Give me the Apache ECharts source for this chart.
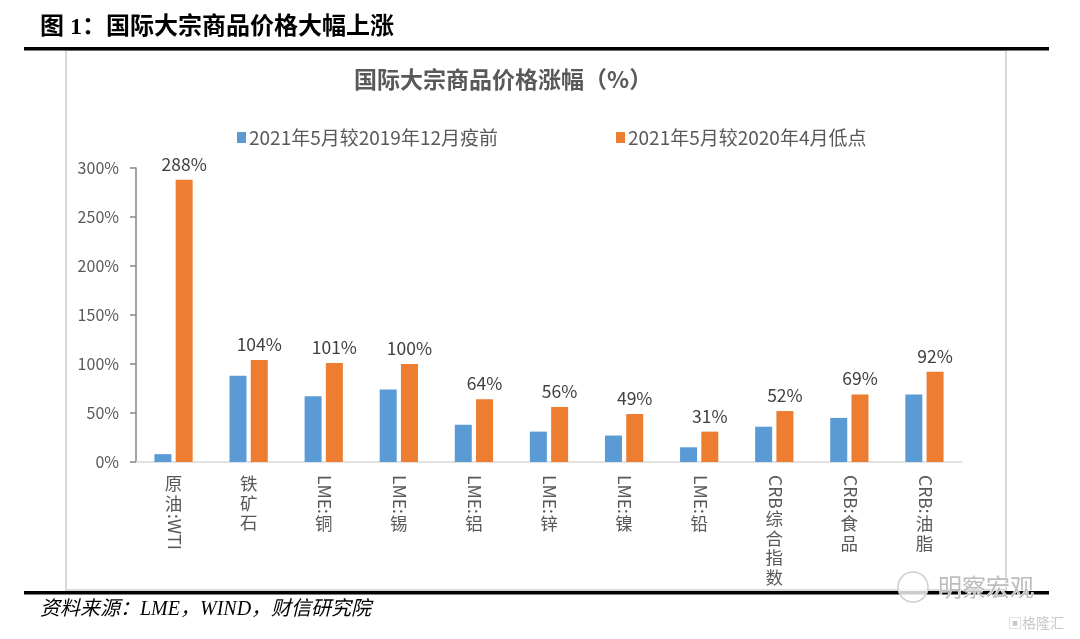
<!DOCTYPE html>
<html>
<head>
<meta charset="utf-8">
<script src="https://cdn.jsdelivr.net/npm/echarts@6/dist/echarts.min.js"></script>
<style>
html,body{margin:0;padding:0;background:#fff;}
#chart{width:1080px;height:639px;}
</style>
</head>
<body>
<div id="chart"></div>
<script>
// ---- data ----
const categories = ['原油:WTI', '铁矿石', 'LME:铜', 'LME:锡', 'LME:铝', 'LME:锌', 'LME:镍', 'LME:铅', 'CRB综合指数', 'CRB:食品', 'CRB:油脂'];
const seriesNames = ['2021年5月较2019年12月疫前', '2021年5月较2020年4月低点'];
const vsPrePandemic = [8, 88, 67, 74, 38, 31, 27, 15, 36, 45, 69];
const vsApril2020Low = [288, 104, 101, 100, 64, 56, 49, 31, 52, 69, 92];
const yMin = 0, yMax = 300, yInterval = 50;
const headerText = '图 1：国际大宗商品价格大幅上涨';
const chartTitle = '国际大宗商品价格涨幅（%）';
const sourceText = '资料来源：LME，WIND，财信研究院';

// ---- rendering ----
const CJK_FONT = '"Noto Sans CJK SC", "Noto Sans", sans-serif';
const LABEL_SIZE = 17.5;
const measureCtx = document.createElement('canvas').getContext('2d');

function renderCategoryLabel(params, api) {
  const idx = api.value(0);
  const p = api.coord([idx, 0]);
  const text = categories[idx];
  const segs = text.match(/[\x00-\x7F]+|[^\x00-\x7F]/g);
  let y = p[1] + 13;
  const children = [];
  const font = LABEL_SIZE + 'px ' + CJK_FONT;
  segs.forEach(function (s) {
    if (/^[\x00-\x7F]+$/.test(s)) {
      measureCtx.font = font;
      const w = measureCtx.measureText(s).width;
      children.push({
        type: 'text', x: p[0] + 1, y: y, rotation: -Math.PI / 2,
        style: { text: s, x: 0, y: 0, align: 'left', verticalAlign: 'middle', font: font, fill: '#595959' }
      });
      y += w + 1;
    } else {
      children.push({
        type: 'text', x: p[0], y: y,
        style: { text: s, align: 'center', verticalAlign: 'top', font: font, fill: '#595959' }
      });
      y += LABEL_SIZE + 2;
    }
  });
  return { type: 'group', children: children };
}

const chart = echarts.init(document.getElementById('chart'), null, { renderer: 'canvas' });
chart.setOption({
  backgroundColor: '#ffffff',
  animation: false,
  textStyle: { fontFamily: CJK_FONT },
  title: {
    text: chartTitle,
    left: 349, top: 63,
    textStyle: { fontSize: 23, fontWeight: 'bold', color: '#595959', fontFamily: CJK_FONT }
  },
  legend: {
    data: seriesNames,
    left: 232, top: 123,
    itemWidth: 9, itemHeight: 11, itemGap: 118,
    icon: 'rect',
    textStyle: { fontSize: 19, color: '#595959', fontFamily: CJK_FONT, padding: [0, 0, 0, -2] }
  },
  grid: { left: 136, right: 118, top: 168, bottom: 177, containLabel: false },
  xAxis: {
    type: 'category',
    data: categories,
    axisLine: { show: true, lineStyle: { color: '#d9d9d9', width: 1.5 } },
    axisTick: { show: false },
    axisLabel: { show: false },
    splitLine: { show: false }
  },
  yAxis: {
    type: 'value',
    min: yMin, max: yMax, interval: yInterval,
    axisLine: { show: true, lineStyle: { color: '#868686', width: 1.5 } },
    axisTick: { show: true, length: 6, lineStyle: { color: '#868686', width: 1.5 } },
    axisLabel: { formatter: '{value}%', fontSize: 16, color: '#595959', margin: 17, fontFamily: CJK_FONT },
    splitLine: { show: false }
  },
  series: [
    {
      name: seriesNames[0], type: 'bar', data: vsPrePandemic,
      barWidth: 17, barGap: '25%',
      itemStyle: { color: '#5B9BD5' }
    },
    {
      name: seriesNames[1], type: 'bar', data: vsApril2020Low,
      barWidth: 17, barGap: '25%',
      itemStyle: { color: '#ED7D31' },
      label: { show: true, position: 'top', distance: 7, formatter: '{c}%', fontSize: 17.5, color: '#404040', fontFamily: CJK_FONT }
    },
    {
      name: 'labels', type: 'custom', coordinateSystem: 'cartesian2d',
      data: categories.map(function (c, i) { return [i, 0]; }),
      encode: { x: 0, y: 1 },
      renderItem: renderCategoryLabel,
      clip: false, silent: true, z: 5
    }
  ],
  graphic: [
    { type: 'rect', shape: { x: 66, y: 50, width: 940, height: 540 }, style: { fill: 'none', stroke: '#d9d9d9', lineWidth: 2 }, z: -1 },
    { type: 'rect', shape: { x: 24, y: 47, width: 1025, height: 3.5 }, style: { fill: '#000' } },
    { type: 'rect', shape: { x: 24, y: 591, width: 1025, height: 3.5 }, style: { fill: '#000' } },
    { type: 'text', x: 40, y: 16, style: { text: headerText, font: 'bold 24px "Liberation Serif", "Noto Sans CJK SC", serif', fill: '#000' } },
    { type: 'text', x: 40, y: 600, style: { text: sourceText, font: 'italic 20px "Liberation Serif", "Noto Sans CJK SC", serif', fill: '#000' } },
    { type: 'circle', shape: { cx: 913, cy: 587, r: 15 }, style: { fill: 'rgba(255,255,255,0.8)', stroke: '#cfcfcf', lineWidth: 1.5 } },
    { type: 'text', x: 938, y: 575, style: { text: '明察宏观', font: '24px "Noto Sans CJK SC", sans-serif', fill: '#bdbdbd', stroke: '#ffffff', lineWidth: 1 } },
    { type: 'text', x: 1008, y: 616, style: { text: '▣格隆汇', font: '14px "Noto Sans CJK SC", sans-serif', fill: '#c8c8c8' } }
  ]
});
</script>
</body>
</html>
